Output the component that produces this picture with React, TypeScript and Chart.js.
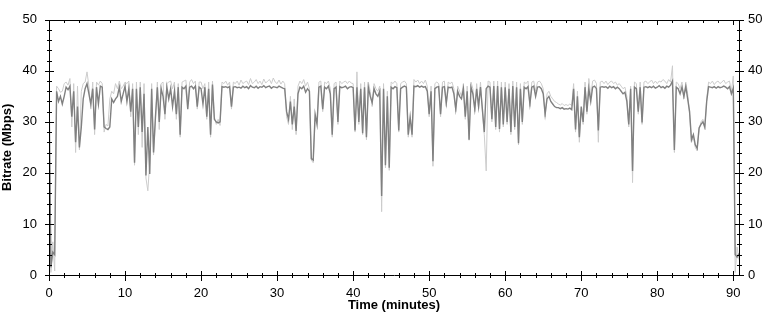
import React, { useEffect, useRef } from "react";
import { Chart, registerables } from "chart.js";

Chart.register(...registerables);

// Sampling step of the recording (minutes between samples)
const STEP_MIN = 0.25;

// Average bitrate (Mbps), 4 samples per minute
const avgBitrate: number[] = [
  36.8, 1.5, 4.5, 4.0, 36.0, 34.0, 35.0, 33.5, 35.0, 36.8, 36.3, 37.0, 31.0, 36.0, 26.0, 33.0,
  25.0, 29.0, 34.5, 36.5, 37.5, 35.5, 33.5, 36.5, 28.5, 36.8, 33.5, 37.0, 36.8, 29.0, 28.7, 28.5,
  29.0, 34.5, 33.8, 34.5, 35.0, 36.8, 34.0, 35.5,
  37.0, 34.0, 36.5, 32.0, 36.5, 22.0, 36.5, 29.0, 36.8, 28.0, 35.5, 19.5, 29.0, 19.8, 36.5, 24.0,
  31.0, 36.8, 30.0, 36.5, 35.0, 31.5, 36.8, 34.5, 36.5, 33.0, 36.0, 31.5, 36.8, 27.5, 36.8, 36.5,
  37.0, 32.5, 36.8, 37.0, 36.5, 37.0, 33.0, 36.8,
  36.5, 33.5, 36.8, 31.0, 36.5, 27.5, 37.3, 30.5, 30.0, 29.8, 30.0, 36.9, 36.8, 36.9, 36.7, 36.9,
  33.0, 36.8, 36.9, 36.7, 36.8, 36.6, 37.0, 36.7, 36.9, 36.5, 37.1, 36.8, 36.7, 37.0, 36.6, 36.9,
  36.8, 37.1, 36.7, 36.9, 37.0, 36.6, 36.9, 36.8,
  36.7, 37.0, 36.8, 36.6, 36.5, 32.0, 30.5, 34.0, 29.5, 33.0, 28.2, 35.5, 36.8, 36.5, 37.0, 35.8,
  36.5, 36.0, 22.8, 22.5, 31.5, 29.5, 36.8, 37.0, 32.5, 36.8, 36.5, 37.0, 35.5, 27.5, 36.5, 36.8,
  30.0, 36.9, 36.7, 36.8, 37.0, 36.5, 36.8, 36.9,
  36.7, 28.3, 36.8, 30.0, 36.5, 27.8, 36.8, 27.0, 36.8, 35.0, 33.8, 36.5, 35.5, 35.0, 36.0, 15.5,
  36.5, 21.5, 35.0, 21.0, 36.8, 36.5, 36.9, 36.7, 28.3, 36.5, 36.8, 37.0, 36.8, 27.5, 31.0, 27.5,
  37.0, 36.9, 37.1, 36.8, 37.0, 36.8, 36.9, 36.0,
  31.5, 36.0, 22.3, 36.5, 36.8, 36.9, 31.5, 36.8, 36.9, 33.7, 36.8, 36.7, 36.8, 35.5, 32.5, 36.0,
  35.0, 34.5, 36.5, 31.0, 36.0, 26.5, 36.8, 35.5, 32.5, 36.5, 33.0, 36.8, 32.5, 28.0, 36.5, 37.0,
  36.8, 30.5, 37.0, 29.0, 37.0, 28.6, 36.8, 29.5,
  36.8, 30.0, 36.5, 28.0, 37.0, 29.0, 36.8, 25.8, 36.5, 30.0, 36.8, 36.5, 36.9, 33.5, 36.8, 37.0,
  35.0, 36.8, 36.9, 36.5, 35.5, 31.5, 34.5, 35.0, 34.0, 33.5, 33.0, 32.8, 32.8, 32.6, 32.8, 32.5,
  32.6, 32.5, 32.7, 32.4, 36.5, 28.5, 35.0, 27.0,
  33.0, 30.0, 36.8, 32.0, 36.5, 34.0, 36.8, 37.0, 36.5, 28.3, 36.8, 36.9, 36.8, 36.9, 36.6, 37.0,
  36.7, 36.9, 36.5, 36.8, 36.5, 36.0, 35.5, 35.8, 34.0, 29.5, 36.5, 20.4, 36.8, 36.5, 32.0, 36.8,
  29.9, 36.8, 36.9, 36.7, 36.9, 36.7, 37.0, 36.6,
  36.8, 37.1, 36.7, 36.9, 36.6, 37.0, 36.8, 37.2, 38.0, 24.5, 36.8, 36.5, 35.5, 36.8, 35.0, 36.9,
  34.5, 32.0, 26.5, 27.5, 25.5, 24.8, 28.8, 29.5, 30.0, 29.0, 34.0, 36.9, 36.8, 36.7, 36.9, 36.6,
  36.9, 36.7, 36.8, 37.0, 36.8, 36.5, 36.9, 35.5,
  36.6, 4.0, 3.5, 4.2,
];

// Peak / extreme bitrate (Mbps), same sampling
const peakBitrate: number[] = [
  37.2, 0.5, 6.5, 0.8, 37.0, 36.5, 35.8, 36.0, 37.5, 37.8, 37.2, 38.5, 29.0, 37.5, 24.0, 37.0,
  24.5, 36.0, 37.5, 37.8, 39.8, 37.0, 32.5, 37.8, 27.5, 37.8, 37.2, 38.0, 37.5, 28.0, 29.5, 29.2,
  34.5, 36.0, 35.5, 37.5, 36.5, 38.0, 36.5, 37.0,
  37.8, 37.5, 38.0, 31.0, 37.5, 21.5, 37.8, 27.5, 37.8, 25.0, 37.5, 19.0, 16.5, 22.0, 37.5, 23.5,
  30.0, 37.8, 28.5, 37.5, 37.8, 30.5, 37.5, 37.8, 38.0, 36.5, 37.8, 30.5, 37.5, 27.0, 37.8, 38.0,
  38.2, 33.5, 37.8, 38.3, 37.5, 38.0, 32.5, 37.8,
  37.8, 36.5, 37.5, 30.5, 37.8, 27.0, 38.0, 31.0, 29.5, 30.5, 29.3, 37.8, 37.5, 38.0, 37.2, 37.8,
  32.5, 37.8, 37.5, 38.0, 37.2, 38.2, 37.5, 37.8, 38.0, 37.3, 38.5, 37.5, 37.8, 38.3, 37.5, 38.0,
  37.3, 38.4, 37.6, 38.0, 38.3, 37.5, 38.6, 37.8,
  37.5, 38.2, 37.4, 38.0, 37.5, 31.0, 29.5, 35.0, 28.5, 34.5, 27.5, 37.0, 38.0, 37.5, 38.3, 37.0,
  37.8, 36.5, 22.5, 22.0, 30.5, 30.0, 37.8, 38.0, 32.0, 37.8, 37.5, 38.0, 36.5, 27.0, 37.5, 37.8,
  29.5, 38.0, 37.5, 37.8, 38.0, 37.5, 38.0, 37.6,
  37.5, 28.0, 39.8, 29.5, 37.5, 27.5, 37.8, 26.5, 37.8, 36.0, 33.0, 37.5, 36.5, 36.0, 37.0, 12.4,
  37.5, 21.0, 36.0, 20.5, 37.8, 37.5, 38.0, 37.5, 28.0, 37.5, 37.8, 38.0, 37.5, 27.0, 30.5, 27.0,
  38.3, 37.8, 38.2, 37.5, 38.0, 37.5, 38.2, 37.0,
  31.0, 37.0, 21.3, 37.5, 37.8, 37.5, 31.0, 37.8, 38.0, 33.0, 37.8, 37.5, 37.8, 36.5, 32.0, 37.0,
  36.0, 35.0, 37.5, 30.5, 37.0, 26.4, 37.8, 36.5, 32.0, 37.5, 32.5, 37.8, 32.0, 27.5, 20.4, 38.0,
  37.8, 30.0, 38.0, 28.5, 38.0, 28.0, 37.8, 29.0,
  37.8, 29.5, 37.5, 27.5, 38.0, 28.5, 37.8, 25.5, 37.5, 29.5, 37.8, 37.5, 38.0, 33.0, 37.8, 38.0,
  36.0, 37.8, 38.0, 37.5, 36.5, 31.0, 35.5, 36.0, 35.0, 34.5, 34.0, 33.8, 33.5, 33.3, 33.6, 33.2,
  33.4, 33.2, 33.5, 33.2, 37.5, 28.0, 36.0, 26.0,
  32.0, 29.5, 37.8, 31.5, 38.5, 35.0, 38.0, 38.2, 37.5, 26.0, 37.8, 38.0, 37.5, 38.0, 37.3, 37.8,
  38.0, 37.5, 37.8, 37.2, 37.5, 37.0, 36.5, 36.8, 35.0, 29.0, 37.0, 18.1, 37.8, 37.5, 31.5, 37.8,
  29.5, 37.8, 38.0, 37.5, 37.8, 38.2, 37.5, 38.0,
  37.5, 38.0, 37.8, 38.3, 38.0, 37.5, 38.3, 37.8, 41.0, 24.0, 37.8, 37.5, 36.5, 37.8, 34.5, 37.8,
  35.5, 31.5, 26.0, 27.0, 25.0, 24.3, 28.5, 30.0, 30.5, 28.5, 34.5, 37.8, 37.5, 38.0, 37.3, 37.8,
  38.0, 37.5, 37.8, 38.2, 37.5, 37.8, 38.0, 36.0,
  39.0, 0.5, 5.5, 3.0,
];

const X_TICKS: number[] = [0, 10, 20, 30, 40, 50, 60, 70, 80, 90];
const Y_TICKS: number[] = [0, 10, 20, 30, 40, 50];

const FONT_FAMILY = '"Liberation Sans", Arial, sans-serif';

const toPoints = (vals: number[]) => vals.map((v, i) => ({ x: i * STEP_MIN, y: v }));

const crossTicks = {
  id: "crossTicks",
  afterDraw(chart: any) {
    const { ctx, chartArea } = chart;
    const xs = chart.scales.x;
    const ys = chart.scales.y;
    const { left, right, top, bottom } = chartArea;
    ctx.save();
    ctx.strokeStyle = "#000";
    ctx.lineWidth = 1;
    ctx.beginPath();
    ctx.rect(Math.round(left) + 0.5, Math.round(top) + 0.5, Math.round(right - left), Math.round(bottom - top));
    for (let t = 0; t <= xs.max + 1e-9; t += 2) {
      const px = Math.round(xs.getPixelForValue(t)) + 0.5;
      const major = t % 10 === 0;
      ctx.moveTo(px, Math.round(bottom) - (major ? 4 : 2));
      ctx.lineTo(px, Math.round(bottom) + (major ? 6 : 3));
      ctx.moveTo(px, Math.round(top));
      ctx.lineTo(px, Math.round(top) + (major ? 5 : 3));
    }
    for (let v = 0; v <= 50; v += 2) {
      const py = Math.round(ys.getPixelForValue(v)) + 0.5;
      const major = v % 10 === 0;
      const len = major ? 4 : 2;
      ctx.moveTo(Math.round(left) - len, py);
      ctx.lineTo(Math.round(left) + len + 1, py);
      ctx.moveTo(Math.round(right) - len, py);
      ctx.lineTo(Math.round(right) + len + 1, py);
    }
    ctx.stroke();
    ctx.restore();
  },
};

export default function App() {
  const canvasRef = useRef<HTMLCanvasElement | null>(null);

  useEffect(() => {
    document.body.style.margin = "0";
    const canvas = canvasRef.current;
    if (!canvas) return;
    const tickFont = { family: FONT_FAMILY, size: 13 };
    const titleFont = { family: FONT_FAMILY, size: 13, weight: "bold" as const };
    const chart = new Chart(canvas, {
      type: "line",
      data: {
        datasets: [
          {
            label: "Average",
            data: toPoints(avgBitrate),
            borderColor: "rgb(128,128,128)",
            borderWidth: 1.4,
            pointRadius: 0,
            tension: 0,
            fill: false,
          },
          {
            label: "Peak",
            data: toPoints(peakBitrate),
            borderColor: "rgb(204,204,204)",
            borderWidth: 1,
            pointRadius: 0,
            tension: 0,
            fill: false,
          },
        ],
      },
      options: {
        responsive: false,
        animation: false,
        layout: { padding: { top: 13, left: 0, right: 0, bottom: 0 } },
        plugins: { legend: { display: false }, tooltip: { enabled: false } },
        scales: {
          x: {
            type: "linear",
            min: 0,
            max: 90.75,
            afterBuildTicks: (s: any) => {
              s.ticks = X_TICKS.map((v) => ({ value: v }));
            },
            afterFit: (s: any) => {
              s.height = 46;
            },
            grid: { display: false, drawTicks: false },
            border: { display: false },
            ticks: { font: tickFont, color: "#000", padding: 11, maxRotation: 0, autoSkip: false },
            title: { display: true, text: "Time (minutes)", font: titleFont, color: "#000", padding: { top: 0, bottom: 8 } },
          },
          y: {
            type: "linear",
            position: "left",
            min: 0,
            max: 50,
            afterBuildTicks: (s: any) => {
              s.ticks = Y_TICKS.map((v) => ({ value: v }));
            },
            afterFit: (s: any) => {
              s.width = 49;
            },
            grid: { display: false, drawTicks: false },
            border: { display: false },
            ticks: { font: tickFont, color: "#000", padding: 12 },
            title: { display: true, text: "Bitrate (Mbps)", font: titleFont, color: "#000", padding: 0 },
          },
          y2: {
            type: "linear",
            position: "right",
            display: true,
            min: 0,
            max: 50,
            afterBuildTicks: (s: any) => {
              s.ticks = Y_TICKS.map((v) => ({ value: v }));
            },
            afterFit: (s: any) => {
              s.width = 30;
            },
            grid: { display: false, drawTicks: false },
            border: { display: false },
            ticks: { font: tickFont, color: "#000", padding: 9 },
          },
        },
      },
      plugins: [crossTicks],
    });
    return () => chart.destroy();
  }, []);

  return (
    <div style={{ width: 769, height: 321, background: "#fff" }}>
      <canvas ref={canvasRef} width={769} height={321} style={{ display: "block" }} />
    </div>
  );
}
